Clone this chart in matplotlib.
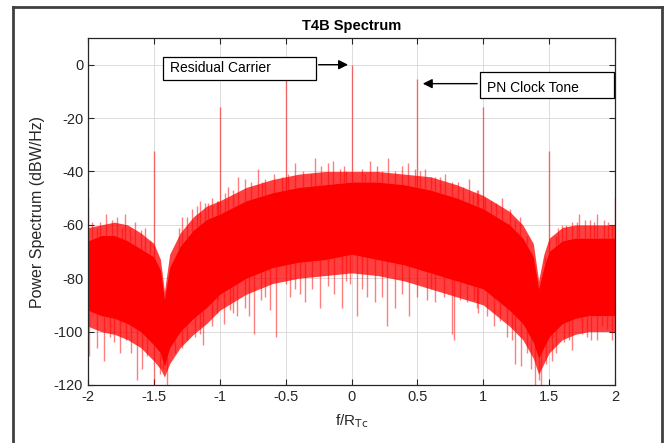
import numpy as np
import matplotlib.pyplot as plt
from matplotlib.lines import Line2D
from matplotlib.patches import Rectangle

plt.rcParams['font.family'] = ['Liberation Sans', 'DejaVu Sans']
plt.rcParams['axes.unicode_minus'] = False

# envelope of the dense noise band (f/RTc, dBW/Hz)
f_env = [-2.0, -1.9, -1.8, -1.7, -1.6, -1.5, -1.45, -1.42, -1.38, -1.3, -1.2, -1.1,
         -1.0, -0.8, -0.6, -0.4, -0.2, 0.0, 0.2, 0.4, 0.6, 0.8, 1.0, 1.1, 1.2, 1.3,
         1.38, 1.42, 1.46, 1.5, 1.6, 1.7, 1.8, 1.9, 2.0]
band_top = [-66, -64, -64, -66, -69, -72, -77, -88, -76, -68, -62, -58,
            -56, -51, -48, -46, -45, -44, -44, -45, -47, -50, -54, -57, -60, -65,
            -72, -84, -76, -70, -66, -65, -65, -65, -65]
band_bot = [-92, -94, -95, -97, -100, -105, -108, -113, -106, -100, -95, -91,
            -86, -80, -76, -74, -73, -71, -73, -75, -78, -81, -84, -88, -92, -97,
            -104, -110, -106, -102, -97, -95, -94, -94, -94]
# lighter fringe where the noise trace is less dense
fuzz_top = [-61, -60, -59, -60, -63, -67, -73, -85, -71, -63, -57, -53,
            -51, -46, -43, -41, -40, -40, -40, -41, -42, -45, -49, -52, -55, -60,
            -67, -81, -71, -65, -61, -60, -60, -60, -60]
fuzz_bot = [-98, -100, -101, -103, -106, -111, -114, -117, -112, -106, -101, -97,
            -92, -86, -82, -80, -79, -78, -79, -81, -84, -87, -90, -94, -98, -103,
            -110, -116, -112, -108, -103, -101, -100, -100, -100]

# upward noise spikes
up_f = [-1.97, -1.93, -1.91, -1.86, -1.82, -1.78, -1.74, -1.72, -1.68, -1.64,
        -1.6, -1.57, -1.53, -1.31, -1.29, -1.25, -1.21, -1.17, -1.15, -1.11,
        -1.09, -1.06, -1.02,
        -1.01, -0.96, -0.94, -0.9, -0.86, -0.81, -0.76, -0.71, -0.68, -0.66,
        -0.59, -0.53, -0.48, -0.43, -0.37, -0.31, -0.28, -0.23, -0.18, -0.14,
        -0.09, -0.06, -0.04,
        0.0, 0.08, 0.1, 0.14, 0.19, 0.23, 0.28, 0.33, 0.38, 0.43, 0.48, 0.52,
        0.56, 0.6, 0.63, 0.67, 0.71, 0.76, 0.81, 0.85, 0.89, 0.92, 0.95,
        0.96, 1.01, 1.06, 1.1, 1.14, 1.2, 1.24, 1.28, 1.33, 1.47, 1.55, 1.57,
        1.6, 1.63, 1.67, 1.71, 1.73, 1.77, 1.81, 1.84, 1.86, 1.92, 1.95, 1.98]
up_tip = [-59, -61, -59, -56, -58, -57, -61, -56, -61, -59,
          -62, -61, -66, -61, -57, -57, -54, -53, -51, -52,
          -52, -50, -51,
          -51, -48, -46, -47, -42, -43, -44, -39, -44, -43,
          -41, -42, -41, -37, -40, -41, -35, -38, -37, -36,
          -39, -38, -40,
          -44, -39, -41, -36, -38, -40, -35, -40, -38, -37, -39, -40,
          -39, -42, -42, -42, -41, -44, -44, -46, -43, -48, -47,
          -47, -50, -51, -52, -50, -54, -58, -57, -64, -72, -64, -61,
          -60, -60, -59, -59, -56, -58, -58, -59, -56, -58, -59, -60]

# downward noise spikes
dn_f = [-1.99, -1.93, -1.88, -1.83, -1.8, -1.76, -1.71, -1.67, -1.63, -1.59,
        -1.55, -1.5, -1.45, -1.43, -1.4, -1.34, -1.29, -1.25, -1.19, -1.15,
        -1.13, -1.06, -1.02,
        -1.01, -0.97, -0.92, -0.9, -0.87, -0.81, -0.78, -0.74, -0.69, -0.66,
        -0.62, -0.57, -0.5, -0.47, -0.43, -0.39, -0.35, -0.3, -0.24, -0.18,
        -0.13, -0.07, -0.04,
        -0.01, 0.04, 0.08, 0.12, 0.18, 0.23, 0.27, 0.33, 0.38, 0.44, 0.5, 0.57,
        0.6, 0.63, 0.7, 0.76, 0.78, 0.82, 0.88, 0.93, 0.95,
        0.96, 1.03, 1.08, 1.13, 1.18, 1.22, 1.24, 1.29, 1.33, 1.36, 1.39, 1.42,
        1.44, 1.48, 1.52, 1.55, 1.61, 1.65, 1.67, 1.75, 1.79, 1.82, 1.86, 1.9,
        1.94, 1.98]
dn_tip = [-109, -106, -111, -102, -104, -108, -103, -108, -118, -114,
          -109, -120, -116, -114, -120, -108, -106, -103, -102, -101,
          -105, -98, -93,
          -88, -97, -92, -93, -94, -91, -94, -101, -88, -87,
          -92, -102, -82, -87, -84, -86, -89, -84, -91, -83,
          -86, -91, -81,
          -82, -94, -84, -87, -89, -87, -98, -91, -86, -94, -87, -88,
          -84, -89, -87, -101, -103, -88, -89, -88, -91,
          -93, -94, -98, -96, -102, -103, -112, -113, -108, -114, -120, -118,
          -120, -112, -111, -108, -104, -103, -107, -101, -102, -103, -103, -98,
          -99, -103]

# discrete tones
tone_f = [-2.0, -1.5, -1.0, -0.5, 0.0, 0.5, 1.0, 1.5, 2.0]
tone_db = [-49.5, -32.5, -16, -5.4, 0, -5.4, -16, -32.5, -49.5]

red = '#ff0000'
dark = '#262626'

fig = plt.figure(figsize=(6.65, 4.43), dpi=100)
ax = fig.add_axes([88/665, 1 - 385/443, 527/665, 347/443])

ax.fill_between(f_env, fuzz_bot, fuzz_top, color=red, alpha=0.75, lw=0, zorder=3)
ax.fill_between(f_env, band_bot, band_top, color=red, lw=0, zorder=3)
up_base = np.interp(up_f, f_env, band_top)
ax.vlines(up_f, up_base, up_tip, color=red, alpha=0.5, lw=1.0, zorder=3)
dn_base = np.interp(dn_f, f_env, band_bot)
ax.vlines(dn_f, dn_base, dn_tip, color=red, alpha=0.5, lw=1.0, zorder=3)
tone_base = np.interp(tone_f, f_env, band_top)
ax.vlines(tone_f, tone_base, tone_db, color=red, alpha=0.55, lw=1.0, zorder=3)

ax.set_xlim(-2, 2)
ax.set_ylim(-120, 10)
ax.set_xticks(np.arange(-2, 2.01, 0.5))
ax.set_xticklabels(['-2', '-1.5', '-1', '-0.5', '0', '0.5', '1', '1.5', '2'])
ax.set_yticks(np.arange(-120, 1, 20))
ax.grid(True, color='#dcdcdc', lw=0.7, zorder=0)
ax.set_axisbelow(True)
ax.tick_params(direction='in', length=4, colors=dark, labelsize=10.5,
               top=True, right=True, width=0.8)
for s in ax.spines.values():
    s.set_color(dark)
    s.set_linewidth(0.9)
    s.set_zorder(5)

ax.set_title('T4B Spectrum', fontsize=10.5, fontweight='bold', color='black', pad=6)
ax.set_xlabel('f/R$_{\\mathrm{Tc}}$', fontsize=11, color=dark, labelpad=6)
ax.set_ylabel('Power Spectrum (dBW/Hz)', fontsize=11.5, color=dark, labelpad=6)

# annotation boxes
ax.add_patch(Rectangle((-1.43, -5.6), 1.16, 8.6, facecolor='white', edgecolor='black',
                       lw=0.9, zorder=6, clip_on=False))
ax.text(-1.38, -1.3, 'Residual Carrier', fontsize=10, va='center', ha='left', zorder=7)
ax.annotate('', xy=(-0.005, 0), xytext=(-0.27, 0), zorder=7,
            arrowprops=dict(arrowstyle='-|>', color='black', lw=1.0, mutation_scale=14))

ax.add_patch(Rectangle((0.975, -12.4), 1.02, 9.8, facecolor='white', edgecolor='black',
                       lw=0.9, zorder=6, clip_on=False))
ax.text(1.03, -8.6, 'PN Clock Tone', fontsize=10, va='center', ha='left', zorder=7)
ax.annotate('', xy=(0.52, -7.1), xytext=(0.975, -7.1), zorder=7,
            arrowprops=dict(arrowstyle='-|>', color='black', lw=1.0, mutation_scale=14))

# outer frame
fc = '#404040'
fig.add_artist(Line2D([13/665, 13/665], [0, 1 - 7/443], color=fc, lw=2, transform=fig.transFigure))
fig.add_artist(Line2D([13/665, 662/665], [1 - 7/443, 1 - 7/443], color=fc, lw=2, transform=fig.transFigure))
fig.add_artist(Line2D([662/665, 662/665], [0, 1 - 7/443], color=fc, lw=2, transform=fig.transFigure))

fig.savefig('out.png', dpi=100)
